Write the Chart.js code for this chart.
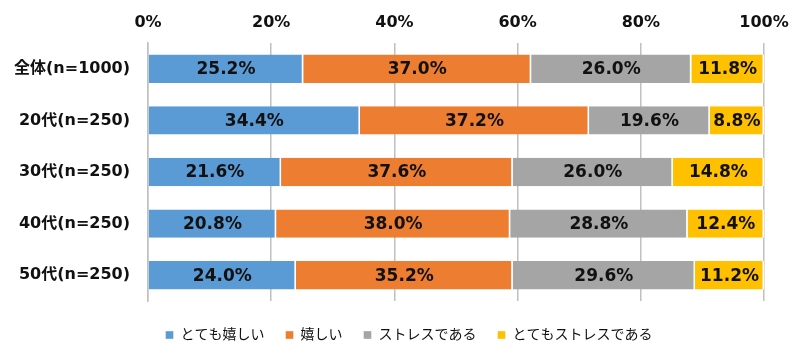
<!DOCTYPE html>
<html>
<head>
<meta charset="utf-8">
<script src="https://cdn.jsdelivr.net/npm/chart.js@4/dist/chart.umd.min.js"></script>
<style>
  html, body { margin: 0; padding: 0; background: #ffffff; }
  #wrap { width: 810px; height: 361px; position: relative; }
</style>
</head>
<body>
<div id="wrap"><canvas id="c" width="810" height="361"></canvas></div>
<script>
const categories = ['全体(n=1000)', '20代(n=250)', '30代(n=250)', '40代(n=250)', '50代(n=250)'];
const seriesNames = ['とても嬉しい', '嬉しい', 'ストレスである', 'とてもストレスである'];
const veryHappy = [25.2, 34.4, 21.6, 20.8, 24.0];
const happy = [37.0, 37.2, 37.6, 38.0, 35.2];
const stress = [26.0, 19.6, 26.0, 28.8, 29.6];
const veryStress = [11.8, 8.8, 14.8, 12.4, 11.2];
const colors = ['#5B9BD5', '#ED7D31', '#A5A5A5', '#FFC000'];
const tickValues = [0, 20, 40, 60, 80, 100];

const FONT = '"DejaVu Sans", "Noto Sans CJK JP", sans-serif';

const labelPlugin = {
  id: 'barLabels',
  afterDatasetsDraw(chart) {
    const ctx = chart.ctx;
    ctx.save();
    ctx.font = 'bold 17px ' + FONT;
    ctx.fillStyle = '#111111';
    ctx.textAlign = 'center';
    ctx.textBaseline = 'middle';
    chart.data.datasets.forEach((ds, i) => {
      const meta = chart.getDatasetMeta(i);
      meta.data.forEach((el, j) => {
        const v = ds.data[j];
        const x = (el.x + el.base) / 2;
        ctx.fillText(v.toFixed(1) + '%', x, el.y + 1);
      });
    });
    ctx.restore();
  }
};

// shift the legend box so that it sits where the reference has it
const legendShift = {
  id: 'legendShift',
  afterLayout(chart) {
    const lg = chart.legend;
    if (!lg) return;
    const dx = 22, dy = 6;
    lg.left += dx; lg.right += dx;
    lg.top += dy; lg.bottom += dy;
  }
};

const allSeries = [veryHappy, happy, stress, veryStress];

new Chart(document.getElementById('c'), {
  type: 'bar',
  data: {
    labels: categories,
    datasets: allSeries.map((d, i) => ({
      label: seriesNames[i],
      data: d,
      backgroundColor: colors[i],
      borderColor: '#ffffff',
      borderWidth: { top: 0, bottom: 0, left: 0, right: 1.5 },
      borderSkipped: false,
      barPercentage: 0.55,
      categoryPercentage: 1.0
    }))
  },
  options: {
    indexAxis: 'y',
    responsive: false,
    animation: false,
    devicePixelRatio: 1,
    layout: { padding: { left: 10, right: 46, top: 3, bottom: 15 } },
    scales: {
      x: {
        position: 'top',
        stacked: true,
        min: 0,
        max: 100,
        afterBuildTicks(axis) { axis.ticks = tickValues.map(v => ({ value: v })); },
        grid: { color: '#c0c0c0', lineWidth: 1.5, drawTicks: false },
        border: { display: false },
        ticks: {
          padding: 12,
          color: '#111111',
          font: { family: FONT, size: 16, weight: 'bold', lineHeight: 1.0 },
          callback: v => v + '%'
        }
      },
      y: {
        stacked: true,
        afterFit(scale) { scale.width = 138; },
        grid: { display: false, drawTicks: false },
        border: { display: true, color: '#c0c0c0', width: 1.5 },
        ticks: {
          padding: 18,
          color: '#111111',
          font: { family: FONT, size: 16, weight: 'bold' }
        }
      }
    },
    plugins: {
      legend: {
        position: 'bottom',
        labels: {
          boxWidth: 8,
          boxHeight: 8,
          padding: 21,
          color: '#111111',
          font: { family: FONT, size: 14 }
        }
      },
      tooltip: { enabled: false }
    }
  },
  plugins: [labelPlugin, legendShift]
});
</script>
</body>
</html>
